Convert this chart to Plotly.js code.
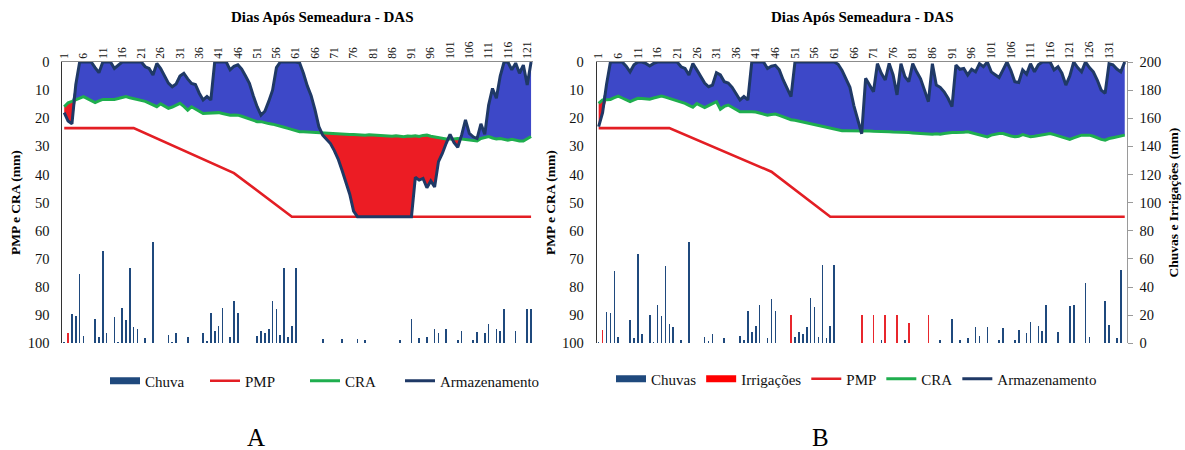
<!DOCTYPE html>
<html><head><meta charset="utf-8">
<script src="https://cdn.plot.ly/plotly-3.0.1.min.js"></script>
<style>html,body{margin:0;padding:0;background:#fff}#chart{width:1185px;height:450px}</style>
</head><body><div id="chart"></div>
<script>
// ---------- Panel A data (days 1..122) ----------
const armA = [
 18,21,22,8,0,0,0,0,2,3.8,
 0,0,0,2.3,1,0,0,0,0,0,
 0,1.7,2.3,4.6,0.5,2.3,5,7.5,8.8,7.8,
 5,4,6,7.6,8,11.1,13.5,12.3,13.5,0,
 0,0,0,2.8,1.5,1,2.5,5,7.6,12,
 15.9,18.9,17.5,14,10,2,0,0,0,0,
 0,0.3,4,8.5,12,17,23,26,27.5,29,
 31.5,34.5,38.5,42.5,47,53,55,55,55,55,
 55,55,55,55,55,55,55,55,55,55,
 55,41,42,41.4,44.7,42.3,44.4,35.4,32.5,28.9,
 25.7,28.6,30.3,26,20.6,25.4,26.6,27.2,22,25.7,
 15.3,9.4,12.9,5,0,0,2.8,0.4,4,1.1,
 8.2,0];
const craA = [
 15.9,14.5,14,13.5,13,12.3,13,13.8,14.4,13.8,
 13.3,13.3,13.4,13.3,13,12.6,12.3,12.7,13,13.3,
 13.5,14,14.6,15.2,15.9,14.9,15.8,16.5,16,15.3,
 14.7,15.8,17.1,15.9,16.8,17.6,18.3,18.2,18.1,18,
 18,18.3,18.6,18.9,18.8,18.9,19.3,19.8,20.3,20.8,
 21.2,21.2,21.6,21.9,22.1,22.4,22.8,23.2,23.6,24,
 24.4,24.8,24.8,24.9,25,25,25,25.1,25.2,25.3,
 25.4,25.5,25.6,25.7,25.8,25.8,25.9,26,26,25.9,
 26,26.1,26.1,26.2,26.3,26.4,26.2,26.3,26.6,26.3,
 26.4,26.2,26.5,26.1,26,26.4,26.7,26.9,27.1,27.4,
 27.3,27.4,27.2,27.4,27.6,27.8,28,28.1,27.2,26.8,
 26.5,27,27.4,27.2,27.6,27.8,27.5,27.9,28.1,28.1,
 27.3,26.5];
const pmpDaysA = [1,19,45,60,122];
const pmpA = [23.5,23.5,39.5,55,55];
const rainDaysA = [1,3,4,5,6,9,10,11,12,14,15,16,17,18,19,20,22,24,28,29,30,33,37,38,39,40,41,42,44,45,46,
 51,52,53,54,55,56,57,58,59,60,61,68,73,77,79,88,91,93,95,97,98,100,103,104,107,108,110,111,113,114,115,118,121,122];
const rainA = [1,20.6,19.4,49.4,5.2,17.6,4.2,65.4,7,18.4,1,25.4,16.8,53.4,11.8,10,4,71.8,5.8,1,7.6,4.6,7,1.5,21.2,8.8,12,25.4,4.6,30.4,21.2,
 5.2,8.6,7.4,10,30.4,24.6,5.8,53.4,4.6,12,53.2,3,3,3,2,2,17.6,4,4.6,10,7,10,2,8.8,2,8,7,13.6,10,8.6,24.4,8.6,24.6,24.6];
const irrDaysA = [2];
const irrA = [7.4];

// ---------- Panel B data (days 1..135) ----------
const armB = [
 23,18,8,0,0,0,0,1.5,3.5,1,
 0,0,0.5,1.4,0.5,0,0,0,0,0,
 0,1.7,2.3,4.6,0.5,2.8,5,7.5,8.8,8.2,
 3.8,4.6,7,7.5,9,11.5,13.5,12.3,13.5,0,
 0,0,0,2.3,1.5,1.2,2.8,6.4,9.5,12.3,
 0,0,0,0,0,0,0,0,0,0,
 0,0.8,3,6,9,15.5,21,25.5,5.8,8.2,
 10.6,0.6,4,6.4,0.5,4.6,11.7,0.6,5.2,7,
 0.6,3.5,6,10,14.1,0.6,8.2,9,10.6,12.9,
 15.9,1.1,2.6,2.3,4.6,2.6,3.5,0.6,1.7,0,
 3.5,4.5,5.5,2.8,0,3,7,7.3,2.8,4.3,
 0.6,3.5,1,0,0,0,2.8,1.7,4,8.2,
 5,0,2,3.5,0,2,3.5,6.4,10,11.1,
 0.6,1,2.5,3.5,0];
const craB = [
 14.7,13.5,13.4,13.3,12.7,12.1,12.8,13.6,14.1,13.5,
 12.9,13,13.1,13.2,12.8,12.4,12.1,12.5,12.9,13.3,
 13.8,14.2,14.7,15.4,16.1,14.8,15.5,16.2,15.5,14.8,
 14.1,16.8,15.8,15.3,16.2,17,17.7,17.7,17.6,17.7,
 17.8,18.2,18.6,18.9,18.7,18.5,19,19.5,20,20.5,
 20.7,21,21.4,21.8,22.1,22.3,22.6,22.9,23.2,23.5,
 23.8,24.1,24.4,24.4,24.4,24.4,24.4,24.5,24.3,24.5,
 24.6,24.6,24.7,24.8,24.8,24.9,24.9,25,25,25.1,
 25.2,25.3,25.5,25.6,25.7,25.7,25.5,25.7,25.4,25.2,
 25.1,25.1,25.1,25,24.8,25.2,25.6,26,26.4,26.6,
 26,25.6,25.4,25.4,25.9,26.3,26.6,26.4,25.8,26.2,
 26.6,26.4,26.2,26,25.6,25.4,25.8,26.2,26.6,27.2,
 27.5,27,26.4,26,26,26,26.4,27,27.5,27.8,
 27.2,26.9,26.6,26.3,26];
const pmpDaysB = [1,19,45,60,135];
const pmpB = [23.5,23.5,39,55,55];
const rainDaysB = [1,3,4,5,6,9,10,11,12,14,15,16,17,18,19,20,22,24,28,29,30,33,37,38,39,40,41,42,44,45,46,
 51,52,53,54,55,56,57,58,59,60,61,68,73,77,79,88,91,93,95,97,98,100,103,104,107,108,110,111,113,114,115,118,121,122,125,126,130,131,133,134];
const rainB = [1,22.5,21.3,51.5,4.7,16.6,3.6,63.4,6.6,20.1,1,27.3,19.7,55.3,13.5,11.4,2.3,71.9,4.7,1.5,6.4,3.6,5.2,2.5,23.2,7.8,12.5,27.3,3.6,31.5,23.2,
 4.7,7.8,6.6,11.4,32,25.6,4.7,55.7,3.6,12.5,55.7,1.5,2.4,2.4,2,2,17,2.4,3.6,11.6,5.3,11.6,2,10.8,2,9.6,7.2,15,12,8.4,27,8,26.5,27,42.6,4.8,30,13.3,3.6,51.8];
const irrDaysB = [2,50,68,71,74,77,80,85];
const irrB = [9.5,20,20,20,20,20,14.5,20];

// ---------- labels ----------
const xTitle = 'Dias Após Semeadura - DAS';
const yTitleLeft = 'PMP e CRA (mm)';
const yTitleRight = 'Chuvas e Irrigações (mm)';
const namesA = {rain:'Chuva', pmp:'PMP', cra:'CRA', arm:'Armazenamento'};
const namesB = {rain:'Chuvas', irr:'Irrigações', pmp:'PMP', cra:'CRA', arm:'Armazenamento'};

// ---------- styling ----------
const SERIF = '"Liberation Serif", "Times New Roman", serif';
const C = {blue:'#3D48C8', red:'#EC1C24', navy:'#1F3966', green:'#1FAE4E', pmp:'#E31E24', rain:'#1F497D', irr:'#E8262C'};
const W = 1185, H = 450;
const px = v => v / W, py = v => 1 - v / H;

function seq(n){ return Array.from({length:n}, (_, i) => i + 1); }

function panel(xa, ya, ya2, cra, arm, pmpX, pmpY, rDays, rain, iDays, irr, names, leg, armLeg, irrLegend){
  const days = seq(cra.length);
  const low = cra.map((c, i) => Math.min(c, arm[i]));
  const high = cra.map((c, i) => Math.max(c, arm[i]));
  const base = {xaxis:xa, yaxis:ya, mode:'lines', showlegend:false, hoverinfo:'skip', legend:leg};
  const tr = [];
  tr.push(Object.assign({}, base, {x:days, y:cra, line:{width:0}}));
  tr.push(Object.assign({}, base, {x:days, y:low, fill:'tonexty', fillcolor:C.blue, line:{width:0}}));
  tr.push(Object.assign({}, base, {x:days, y:cra, line:{width:0}}));
  tr.push(Object.assign({}, base, {x:days, y:high, fill:'tonexty', fillcolor:C.red, line:{width:0}}));
  tr.push({type:'scatter', xaxis:xa, yaxis:ya, x:pmpX, y:pmpY, mode:'lines', name:names.pmp, legend:leg, legendrank:3,
           line:{color:C.pmp, width:2.6}});
  tr.push({type:'scatter', xaxis:xa, yaxis:ya, x:days, y:cra, mode:'lines', name:names.cra, legend:leg, legendrank:4,
           line:{color:C.green, width:3}});
  tr.push({type:'scatter', xaxis:xa, yaxis:ya, x:days, y:arm, mode:'lines', name:names.arm, legend:armLeg, legendrank:5,
           line:{color:C.navy, width:3}});
  tr.push({type:'bar', xaxis:xa, yaxis:ya2, x:rDays, y:rain, width:0.42, name:names.rain, showlegend:false, legend:leg,
           marker:{color:C.rain, line:{width:0}}});
  tr.push({type:'bar', xaxis:xa, yaxis:ya2, x:iDays, y:irr, width:0.42, name:names.irr || 'Irrigação', showlegend:false, legend:leg,
           marker:{color:C.irr, line:{width:0}}});
  // legend swatches for bar series
  tr.push({type:'scatter', xaxis:xa, yaxis:ya, x:[null], y:[null], mode:'lines', name:names.rain, legend:leg, legendrank:1,
           line:{color:C.rain, width:7}});
  if(irrLegend){
    tr.push({type:'scatter', xaxis:xa, yaxis:ya, x:[null], y:[null], mode:'lines', name:names.irr, legend:leg, legendrank:2,
             line:{color:'#FF0000', width:7}});
  }
  return tr;
}

const data = [].concat(
  panel('x','y','y2', craA, armA, pmpDaysA, pmpA, rainDaysA, rainA, irrDaysA, irrA, namesA, 'legend', 'legend3', false),
  panel('x2','y3','y4', craB, armB, pmpDaysB, pmpB, rainDaysB, rainB, irrDaysB, irrB, namesB, 'legend2', 'legend2', true)
);

function topAxis(n, domain, anchor){
  const tv = []; for(let d = 1; d <= n; d += 5) tv.push(d);
  return {domain:domain, anchor:anchor, side:'top', range:[0.5, n + 0.5], tickvals:tv, ticktext:tv.map(String),
          tickangle:-90, tickfont:{family:SERIF, size:11.5, color:'#111'}, ticks:'', showgrid:false, zeroline:false,
          showline:true, linecolor:'#8c8c8c', linewidth:1, fixedrange:true};
}
function leftAxis(domain, anchor){
  return {domain:domain, anchor:anchor, range:[100,0], dtick:10, ticks:'', showgrid:false, zeroline:false,
          showline:true, linecolor:'#333', linewidth:1, ticklabelstandoff:9,
          tickfont:{family:SERIF, size:14.5, color:'#111'},
          title:{text:'<b>' + yTitleLeft + '</b>', font:{family:SERIF, size:13.5, color:'#000'}, standoff:3}};
}
const yDom = [py(343.3), py(62)];
const legFont = {family:SERIF, size:15, color:'#111'};

const layout = {
  width:W, height:H, margin:{l:0, r:0, t:0, b:0}, paper_bgcolor:'#fff', plot_bgcolor:'rgba(0,0,0,0)',
  barmode:'overlay', bargap:0, hovermode:false,
  xaxis: topAxis(craA.length, [px(62.3), px(533)], 'y'),
  yaxis: leftAxis(yDom, 'x'),
  yaxis2: {overlaying:'y', anchor:'x', side:'right', range:[0,200], visible:false, showgrid:false, zeroline:false},
  xaxis2: topAxis(craB.length, [px(596.7), px(1126.7)], 'y3'),
  yaxis3: leftAxis(yDom, 'x2'),
  yaxis4: {overlaying:'y3', anchor:'x2', side:'right', range:[0,200], dtick:20, showgrid:false, zeroline:false,
           showline:true, linecolor:'#9a9a9a', linewidth:1, ticks:'outside', ticklen:5, tickcolor:'#9a9a9a',
           ticklabelstandoff:4, tickfont:{family:SERIF, size:14.5, color:'#111'},
           title:{text:'<b>' + yTitleRight + '</b>', font:{family:SERIF, size:13.5, color:'#000'}, standoff:8}},
  legend: {orientation:'h', x:px(105), xanchor:'left', y:py(381), yanchor:'middle', traceorder:'normal',
           font:legFont, bgcolor:'rgba(0,0,0,0)', entrywidth:55, itemclick:false},
  legend3: {orientation:'h', x:px(400), xanchor:'left', y:py(381), yanchor:'middle', traceorder:'normal',
           font:legFont, bgcolor:'rgba(0,0,0,0)', itemclick:false},
  legend2: {orientation:'h', x:px(611), xanchor:'left', y:py(379), yanchor:'middle', traceorder:'normal',
           font:legFont, bgcolor:'rgba(0,0,0,0)', itemclick:false},
  annotations: [
    {xref:'paper', yref:'paper', x:px(322), y:py(17), xanchor:'center', yanchor:'middle', text:'<b>' + xTitle + '</b>', showarrow:false,
     font:{family:SERIF, size:15, color:'#000'}},
    {xref:'paper', yref:'paper', x:px(862), y:py(17), xanchor:'center', yanchor:'middle', text:'<b>' + xTitle + '</b>', showarrow:false,
     font:{family:SERIF, size:15, color:'#000'}},
    {xref:'paper', yref:'paper', x:px(256), y:py(437), xanchor:'center', yanchor:'middle', text:'A', showarrow:false, font:{family:SERIF, size:25, color:'#000'}},
    {xref:'paper', yref:'paper', x:px(820), y:py(437), xanchor:'center', yanchor:'middle', text:'B', showarrow:false, font:{family:SERIF, size:25, color:'#000'}}
  ]
};

Plotly.newPlot('chart', data, layout, {staticPlot:true, displayModeBar:false});
</script></body></html>
